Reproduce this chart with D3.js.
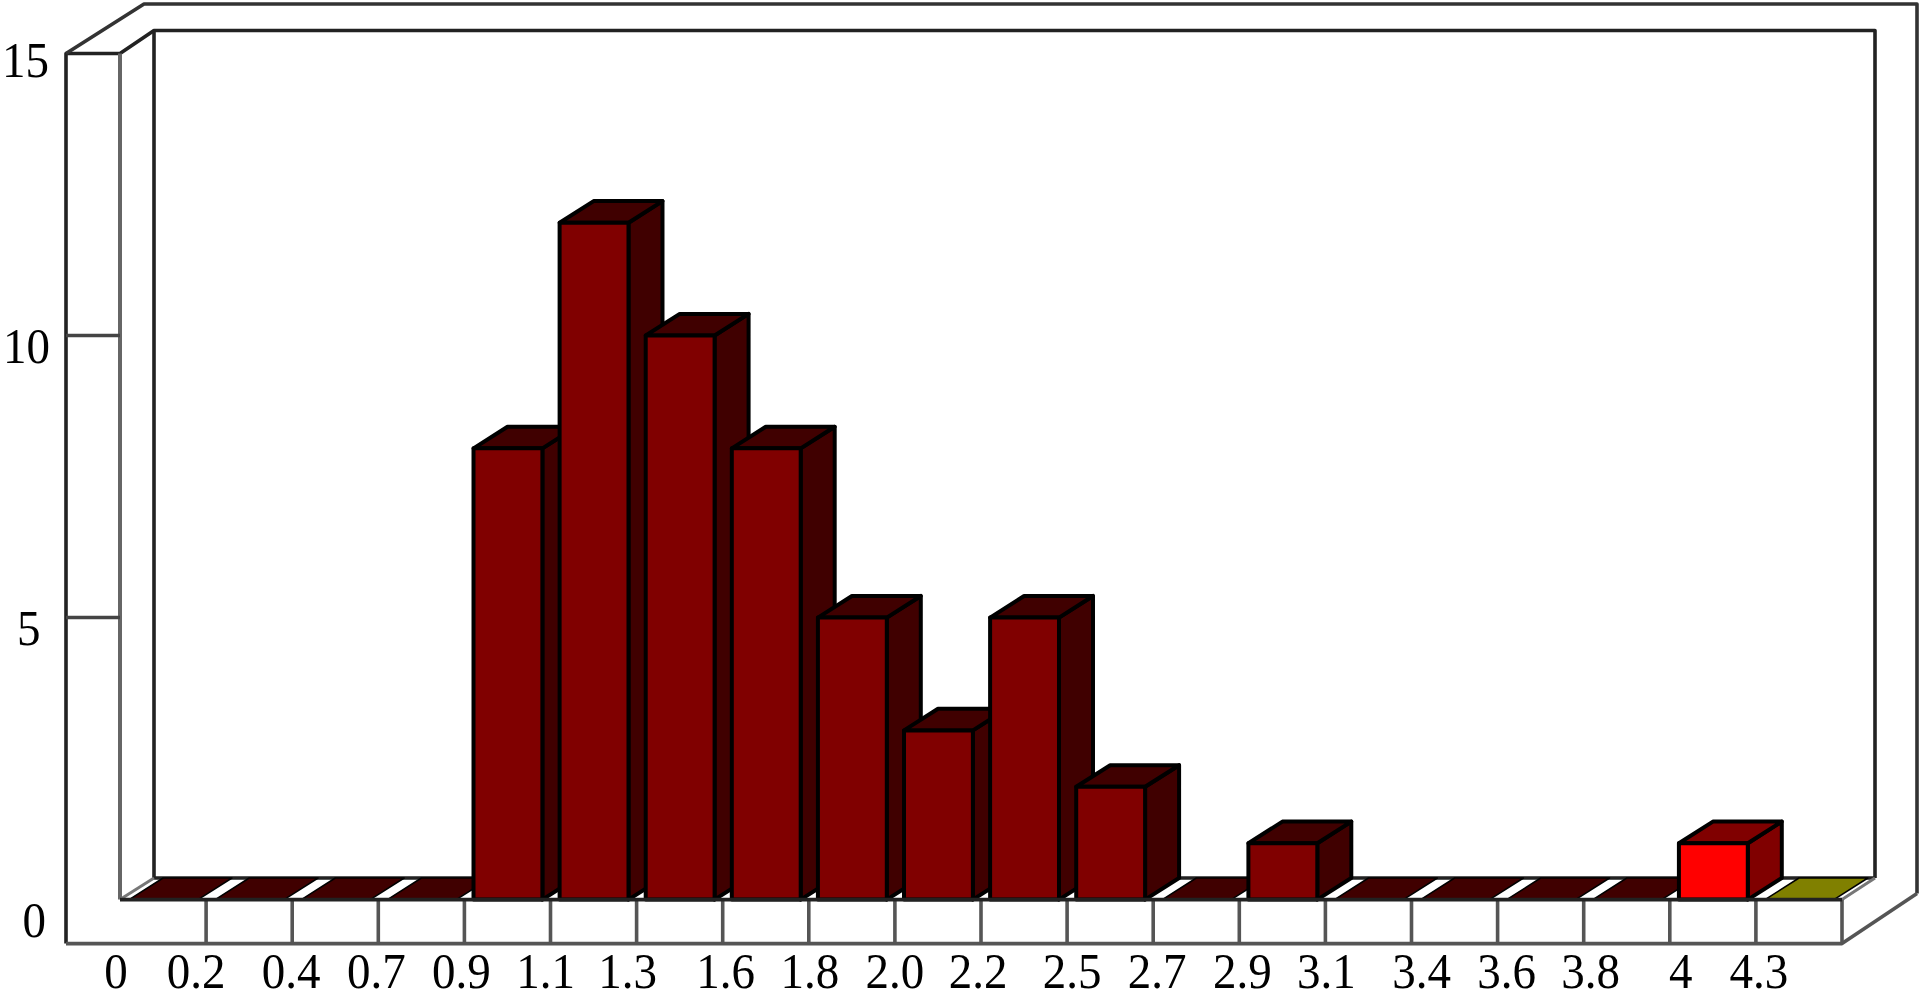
<!DOCTYPE html>
<html><head><meta charset="utf-8">
<script src="https://cdn.jsdelivr.net/npm/d3@7/dist/d3.min.js"></script>
<style>html,body{margin:0;padding:0;background:#fff;overflow:hidden}svg{display:block;filter:blur(.6px)}</style>
</head><body><svg id="c" width="1919" height="999"></svg>
<script>
const categories=["0","0.2","0.4","0.7","0.9","1.1","1.3","1.6","1.8","2.0","2.2","2.5","2.7","2.9","3.1","3.4","3.6","3.8","4","4.3"];
const values=[0,0,0,0,8,12,10,8,5,3,5,2,0,1,0,0,0,0,1,0];
const groups=["a","a","a","a","a","a","a","a","a","a","a","a","a","a","a","a","a","a","b","c"];
const yTicks=[0,5,10,15];
// layout of the printed labels, which sit unevenly in the source
const xLabelNudge=[-4,-10,-1,-2,-3,-5,-9,3,1,0,-3,5,4,3,1,10,9,7,11,3];
const yLabelLayout={0:{x:46,dy:37.5},5:{x:40.5,dy:27.5},10:{x:50,dy:27},15:{x:49,dy:23.5}};

const L={outerX:66,frontX:120,backX:154,rightFront:1842,rightBack:1875,top:53.5,backTop:30.5,floorFront:899.6,floorBack:878,bottom:943.6,edge:1917};
const depthX=L.backX-L.frontX,depthY=L.floorFront-L.floorBack;
const palette={a:{front:"#800000",top:"#400000",side:"#400000"},b:{front:"#ff0000",top:"#800000",side:"#800000"},c:{front:"#808000",top:"#808000",side:"#808000"}};

const svg=d3.select("#c");
const x=d3.scaleBand().domain(d3.range(categories.length)).range([L.frontX+.5,L.rightFront+.5]).paddingInner(.2).paddingOuter(.1);
const slot=d3.scaleBand().domain(d3.range(categories.length)).range([L.frontX,L.rightFront]);
const y=d3.scaleLinear().domain([0,15]).range([L.floorFront,L.top]);
const line=d3.line();
const frame=(pts,w=3.6,c="#222")=>svg.append("path").attr("d",line(pts)).attr("fill","none").attr("stroke",c).attr("stroke-width",w).attr("stroke-linejoin","round");

// chart walls
frame([[L.outerX,L.bottom],[L.outerX,L.top],[L.frontX,L.top],[L.backX,L.backTop],[L.rightBack,L.backTop],[L.rightBack,L.floorBack]]);
frame([[L.outerX,L.top],[144,4],[L.edge,4],[L.edge,L.bottom-50]],3.6,"#333");
frame([[L.frontX,L.top],[L.frontX,L.floorFront]],4,"#666");
frame([[L.backX,L.backTop],[L.backX,L.floorBack],[L.rightBack,L.floorBack]]);
frame([[L.frontX,L.floorFront],[L.backX,L.floorBack]],3,"#777");
frame([[L.rightFront,L.floorFront],[L.rightBack,L.floorBack]],3,"#777");
frame([[L.outerX,L.bottom],[L.rightFront,L.bottom],[L.edge,L.bottom-50]],3.6,"#555");

// slot dividers on the front ledge
svg.append("g").selectAll("line").data(d3.range(1,categories.length+1)).join("line")
 .attr("x1",i=>i===categories.length?L.rightFront:slot(i)).attr("x2",i=>i===categories.length?L.rightFront:slot(i))
 .attr("y1",L.floorFront).attr("y2",L.bottom).attr("stroke","#555").attr("stroke-width",3.6);

// value ticks on the side wall
svg.append("g").selectAll("line").data(yTicks.filter(v=>v>0&&v<15)).join("line")
 .attr("x1",L.outerX).attr("x2",L.frontX).attr("y1",y).attr("y2",y).attr("stroke","#444").attr("stroke-width",3.4);

// bars (drawn back to front so that each front hides its left neighbour's side)
const bars=svg.append("g").attr("stroke","#000").attr("stroke-width",4).attr("stroke-linejoin","round");
values.forEach((v,i)=>{
 const c=palette[groups[i]],x0=x(i),x1=x0+x.bandwidth(),yt=y(v),yb=y(0);
 const g=bars.append("g");
 if(v>0){
  g.append("path").attr("fill",c.side).attr("d",line([[x1,yt],[x1+depthX,yt-depthY],[x1+depthX,yb-depthY],[x1,yb]])+"Z");
  g.append("path").attr("fill",c.top).attr("d",line([[x0,yt],[x0+depthX,yt-depthY],[x1+depthX,yt-depthY],[x1,yt]])+"Z");
  g.append("rect").attr("fill",c.front).attr("x",x0).attr("y",yt).attr("width",x.bandwidth()).attr("height",yb-yt);
 } else {
  g.append("path").attr("fill",c.top).attr("stroke-width",1.5).attr("d",line([[x0,yt],[x0+depthX,yt-depthY],[x1+depthX,yt-depthY],[x1,yt]])+"Z");
 }
});
// floor edge lines over the bases
frame([[L.frontX,L.floorFront],[L.rightFront,L.floorFront]],3.6,"#222");

// labels
const font="'Liberation Serif','Times New Roman',serif";
const tall=(px,py)=>`translate(${px},${py}) scale(1,1.07)`;
svg.append("g").selectAll("text").data(categories).join("text")
 .attr("transform",(d,i)=>tall(slot(i)+xLabelNudge[i],988)).attr("text-anchor","middle")
 .attr("font-family",font).attr("font-size",47).attr("fill","#000").text(d=>d);
svg.append("g").selectAll("text").data(yTicks).join("text")
 .attr("transform",v=>tall(yLabelLayout[v].x,y(v)+yLabelLayout[v].dy)).attr("text-anchor","end")
 .attr("font-family",font).attr("font-size",47).attr("fill","#000").text(v=>v);
</script></body></html>
